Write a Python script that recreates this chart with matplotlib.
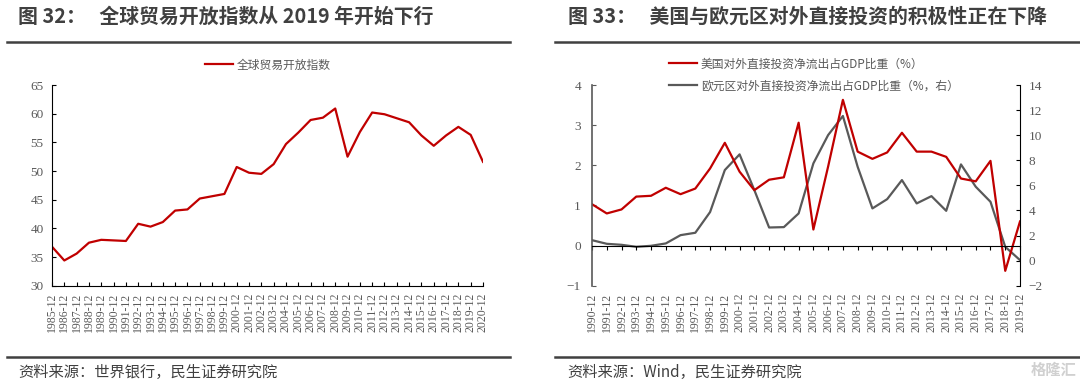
import matplotlib.pyplot as plt
from matplotlib.lines import Line2D

# data
years_left = list(range(1985, 2021))
openness = [36.8, 34.4, 35.6, 37.5, 38.0, 37.9, 37.8, 40.8, 40.3, 41.1,
            43.1, 43.3, 45.2, 45.6, 46.0, 50.7, 49.7, 49.5, 51.2, 54.7,
            56.7, 58.9, 59.3, 60.9, 52.5, 56.8, 60.2, 59.9, 59.2, 58.5,
            56.2, 54.4, 56.2, 57.7, 56.3, 51.6]

years_right = list(range(1990, 2020))
us_fdi = [1.03, 0.80, 0.90, 1.22, 1.24, 1.44, 1.28, 1.42, 1.92, 2.56,
          1.84, 1.38, 1.64, 1.70, 3.06, 0.40, 1.97, 3.63, 2.34, 2.16,
          2.32, 2.81, 2.34, 2.34, 2.21, 1.67, 1.60, 2.11, -0.63, 0.60]
euro_fdi = [1.63, 1.34, 1.26, 1.10, 1.18, 1.37, 2.03, 2.22, 3.87, 7.22,
            8.47, 5.62, 2.64, 2.67, 3.76, 7.75, 10.01, 11.53, 7.48, 4.16,
            4.90, 6.42, 4.56, 5.14, 3.97, 7.67, 5.89, 4.69, 1.10, 0.04]

labels_left = [f"{y}-12" for y in years_left]
labels_right = [f"{y}-12" for y in years_right]

RED = '#C00000'
GREY = '#595959'
TXT = '#404040'
CJK = ['Noto Sans CJK SC', 'DejaVu Sans']

# numbers on axes in serif, all Chinese text gets CJK explicitly
plt.rcParams['font.family'] = 'serif'
plt.rcParams['font.serif'] = ['Liberation Serif', 'DejaVu Serif']

fig = plt.figure(figsize=(10.8, 3.83), dpi=100)

# titles, rules and sources
fig.text(18 / 1080, 1 - 16 / 383, '图 32：   全球贸易开放指数从 2019 年开始下行',
         fontsize=14.3, fontweight='bold', color=TXT, va='center', ha='left', family=CJK)
fig.text(568 / 1080, 1 - 16 / 383, '图 33：   美国与欧元区对外直接投资的积极性正在下降',
         fontsize=14.3, fontweight='bold', color=TXT, va='center', ha='left', family=CJK)
for x0, x1 in [(7, 510), (555, 1080)]:
    for yy in [42, 357]:
        fig.add_artist(Line2D([x0 / 1080, x1 / 1080], [1 - yy / 383, 1 - yy / 383],
                              color=TXT, lw=1.8, transform=fig.transFigure))
fig.text(18 / 1080, 1 - 372 / 383, '资料来源：世界银行，民生证券研究院',
         fontsize=11, color=TXT, va='center', ha='left', family=CJK)
fig.text(567 / 1080, 1 - 372 / 383, '资料来源：Wind，民生证券研究院',
         fontsize=11, color=TXT, va='center', ha='left', family=CJK)
fig.text(1076 / 1080, 1 - 370 / 383, '格隆汇', fontsize=11, color='#d0d0d0',
         va='center', ha='right', fontweight='bold', family=CJK)

# left chart
ax1 = fig.add_axes([52 / 1080, 97.3 / 383, 431 / 1080, 200.7 / 383])
ax1.plot(range(len(years_left)), openness, color=RED, lw=1.6, label='全球贸易开放指数')
ax1.set_xlim(0, len(years_left) - 1)
ax1.set_ylim(30, 65)
ax1.set_yticks(range(30, 66, 5))
ax1.set_xticks(range(len(years_left)))
ax1.set_xticklabels(labels_left, rotation=90, fontsize=8.5, color=GREY)
ax1.tick_params(axis='y', labelsize=9.5, labelcolor=GREY, direction='in', length=3, pad=6)
ax1.tick_params(axis='x', direction='in', length=3, pad=5)
ax1.spines['top'].set_visible(False)
ax1.spines['right'].set_visible(False)
ax1.legend(loc='lower center', bbox_to_anchor=(0.5, 1.015), frameon=False,
           prop={'family': CJK, 'size': 8.5}, labelcolor=GREY,
           handlelength=2.4, handletextpad=0.3)

# right chart
ax2 = fig.add_axes([592 / 1080, 97.3 / 383, 428 / 1080, 200.7 / 383])
ax2.spines['bottom'].set_position(('data', 0))
ax3 = ax2.twinx()
l1, = ax2.plot(range(len(years_right)), us_fdi, color=RED, lw=1.6,
               label='美国对外直接投资净流出占GDP比重（%）')
l2, = ax3.plot(range(len(years_right)), euro_fdi, color=GREY, lw=1.6,
               label='欧元区对外直接投资净流出占GDP比重（%，右）')
ax2.set_zorder(ax3.get_zorder() + 1)
ax2.patch.set_visible(False)
ax2.set_xlim(0, len(years_right) - 1)
ax2.set_ylim(-1, 4)
ax3.set_ylim(-2, 14)
ax2.set_yticks(range(-1, 5))
ax3.set_yticks(range(-2, 15, 2))
ax2.set_xticks(range(len(years_right)))
ax2.set_xticklabels(labels_right, rotation=90, fontsize=8.5, color=GREY)
ax2.tick_params(axis='x', direction='out', length=3, pad=31)
ax2.tick_params(axis='y', labelsize=9.5, labelcolor=GREY, direction='in', length=3,
                pad=8, color=GREY)
ax3.tick_params(axis='y', labelsize=9.5, labelcolor=GREY, direction='in', length=3, pad=6)
for a in (ax2, ax3):
    a.spines['top'].set_visible(False)
ax3.spines['bottom'].set_visible(False)
ax3.spines['left'].set_visible(False)
ax2.spines['right'].set_visible(False)
ax2.spines['left'].set_color(GREY)
ax2.spines['left'].set_linewidth(1.2)
ax2.legend(handles=[l1, l2], loc='lower left', bbox_to_anchor=(0.155, 0.91),
           frameon=False, prop={'family': CJK, 'size': 8.5}, labelcolor=GREY,
           handlelength=2.4, handletextpad=0.3, labelspacing=0.75)

fig.savefig('out.png', dpi=100)
